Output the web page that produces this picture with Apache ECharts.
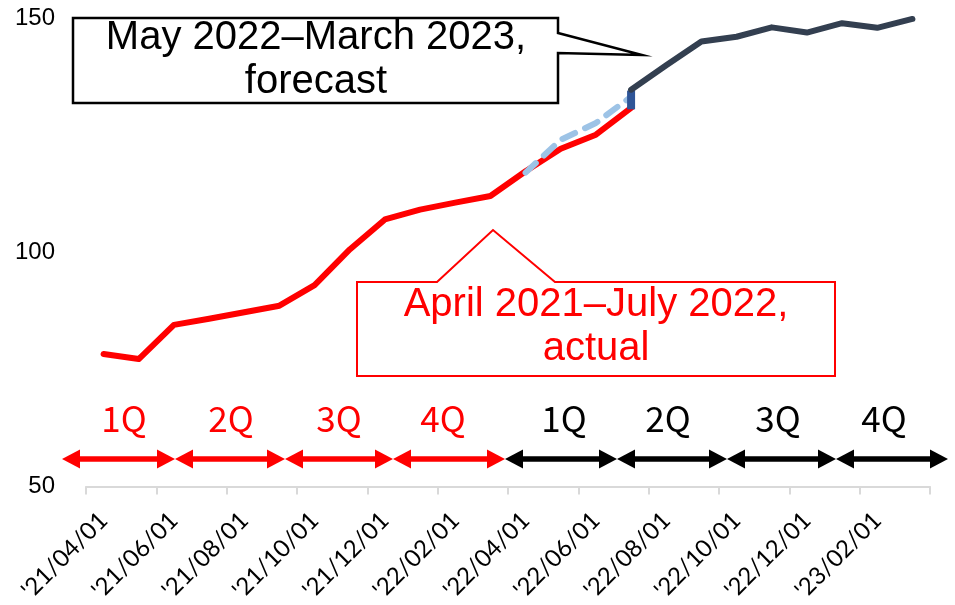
<!DOCTYPE html>
<html>
<head>
<meta charset="utf-8">
<script src="https://cdn.jsdelivr.net/npm/echarts@6/dist/echarts.min.js"></script>
<style>html,body{margin:0;padding:0;background:#fff}#c{width:955px;height:605px}</style>
</head>
<body>
<div id="c"></div>
<script>
// ---- data ----
const categories = ["'21/04/01","'21/05/01","'21/06/01","'21/07/01","'21/08/01","'21/09/01",
  "'21/10/01","'21/11/01","'21/12/01","'22/01/01","'22/02/01","'22/03/01",
  "'22/04/01","'22/05/01","'22/06/01","'22/07/01","'22/08/01","'22/09/01",
  "'22/10/01","'22/11/01","'22/12/01","'23/01/01","'23/02/01","'23/03/01"];
const actual = [78.3, 77.2, 84.5, 85.8, 87.2, 88.6, 93.0, 100.6, 107.0, 109.1, 110.6, 112.0,
  117.3, 122.1, 125.1, 130.8, null, null, null, null, null, null, null, null];
const earlierForecast = [null, null, null, null, null, null, null, null, null, null, null, null,
  117.0, 124.0, 127.6, 133.2, null, null, null, null, null, null, null, null];
const forecast = [null, null, null, null, null, null, null, null, null, null, null, null,
  null, null, null, 134.7, 139.9, 145.0, 146.0, 148.0, 146.9, 148.9, 147.9, 149.8];
const gapBase = [null, null, null, null, null, null, null, null, null, null, null, null,
  null, null, null, 130.5, null, null, null, null, null, null, null, null];
const gapSize = [null, null, null, null, null, null, null, null, null, null, null, null,
  null, null, null, 4.0, null, null, null, null, null, null, null, null];
const yTicks = [50, 100, 150];
const quarterLabels = ['1Q', '2Q', '3Q', '4Q', '1Q', '2Q', '3Q', '4Q'];
const forecastNote = 'May 2022–March 2023,\nforecast';
const actualNote = 'April 2021–July 2022,\nactual';

// ---- annotation layout (pixels) ----
const arrowEdges = [62, 175, 285, 393, 505, 617, 727, 836, 948];
const quarterLabelX = [124, 231, 339, 443, 564, 668, 778, 884];
const arrowY = 459;

const graphic = [];
for (let i = 0; i < arrowEdges.length - 1; i++) {
  const x0 = arrowEdges[i], x1 = arrowEdges[i + 1];
  const col = i < 4 ? '#FF0000' : '#000000';
  const head = 18, hw = 9.5;
  graphic.push({ type: 'line', z: 10, shape: { x1: x0 + head - 2, y1: arrowY, x2: x1 - head + 2, y2: arrowY },
    style: { stroke: col, lineWidth: 5.5 } });
  graphic.push({ type: 'polygon', z: 10, shape: { points: [[x0, arrowY], [x0 + head, arrowY - hw], [x0 + head, arrowY + hw]] },
    style: { fill: col } });
  graphic.push({ type: 'polygon', z: 10, shape: { points: [[x1, arrowY], [x1 - head, arrowY - hw], [x1 - head, arrowY + hw]] },
    style: { fill: col } });
  graphic.push({ type: 'text', z: 10, x: quarterLabelX[i], y: 419,
    style: { text: quarterLabels[i], fontSize: 35, fontFamily: '"Noto Sans CJK JP"', fill: col, align: 'center', verticalAlign: 'middle' } });
}
graphic.push({ type: 'polygon', z: 20,
  shape: { points: [[73, 18], [558, 18], [558, 33], [642, 55], [558, 53], [558, 103], [73, 103]] },
  style: { fill: '#fff', stroke: '#000', lineWidth: 2.5 } });
graphic.push({ type: 'text', z: 21, x: 316, y: 60,
  style: { text: forecastNote, fontSize: 40, fontFamily: '"Liberation Sans", Arial', fill: '#000', align: 'center', verticalAlign: 'middle', lineHeight: 44 } });
graphic.push({ type: 'polygon', z: 20,
  shape: { points: [[357, 282], [437, 282], [493, 230], [555, 282], [835, 282], [835, 376], [357, 376]] },
  style: { fill: '#fff', stroke: '#FF0000', lineWidth: 2 } });
graphic.push({ type: 'text', z: 21, x: 596, y: 327,
  style: { text: actualNote, fontSize: 40, fontFamily: '"Liberation Sans", Arial', fill: '#FF0000', align: 'center', verticalAlign: 'middle', lineHeight: 44 } });

const chart = echarts.init(document.getElementById('c'), null, { renderer: 'canvas' });
chart.setOption({
  animation: false,
  backgroundColor: '#fff',
  grid: { left: 86, right: 25, top: 18, bottom: 117, containLabel: false },
  xAxis: {
    type: 'category', data: categories, boundaryGap: true,
    axisLine: { lineStyle: { color: '#D9D9D9', width: 2 } },
    axisTick: { show: true, interval: 1, length: 8, lineStyle: { color: '#D9D9D9', width: 2 } },
    axisLabel: { interval: 1, rotate: 45, margin: 30, fontSize: 24, fontFamily: 'Lato', color: '#000' },
    splitLine: { show: false }
  },
  yAxis: {
    type: 'value', min: yTicks[0], max: yTicks[yTicks.length - 1], interval: yTicks[1] - yTicks[0],
    axisLine: { show: false }, axisTick: { show: false }, splitLine: { show: false },
    axisLabel: { fontSize: 24, fontFamily: '"Liberation Sans", Arial', color: '#000', margin: 31 }
  },
  series: [
    { name: 'actual', type: 'line', data: actual, symbol: 'none', z: 3,
      lineStyle: { color: '#FF0000', width: 6, cap: 'round', join: 'round' } },
    { name: 'earlier forecast', type: 'line', data: earlierForecast, symbol: 'none', z: 4,
      lineStyle: { color: '#9DC3E6', width: 6, type: [14, 11], cap: 'round', join: 'round' } },
    { name: 'gapBase', type: 'bar', stack: 'gap', data: gapBase, barWidth: 8, z: 5, silent: true,
      itemStyle: { color: 'rgba(0,0,0,0)' } },
    { name: 'gap', type: 'bar', stack: 'gap', data: gapSize, barWidth: 8, z: 5,
      itemStyle: { color: '#2F5597' } },
    { name: 'forecast', type: 'line', data: forecast, symbol: 'none', z: 6,
      lineStyle: { color: '#333F50', width: 6, cap: 'round', join: 'round' } }
  ],
  graphic: graphic
});
</script>
</body>
</html>
